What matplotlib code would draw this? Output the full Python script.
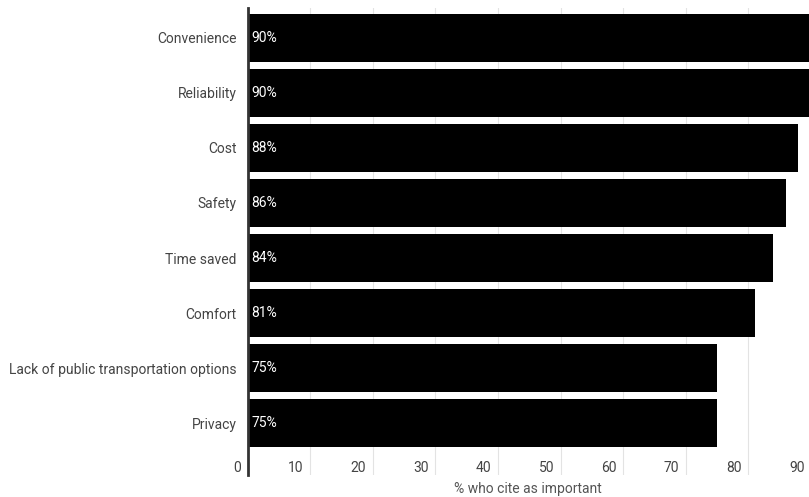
import matplotlib
matplotlib.use("Agg")
import matplotlib.pyplot as plt
from matplotlib.transforms import ScaledTranslation

categories = ["Convenience", "Reliability", "Cost", "Safety", "Time saved",
              "Comfort", "Lack of public transportation options", "Privacy"]
values = [90, 90, 88, 86, 84, 81, 75, 75]
xticks = [0, 10, 20, 30, 40, 50, 60, 70, 80, 90]
xlabel = "% who cite as important"

plt.rcParams["font.family"] = ["Roboto", "DejaVu Sans"]

W, H = 809, 497
fig = plt.figure(figsize=(W / 100, H / 100), dpi=100)
left_px, right_px, top_px, bottom_px = 247.5, 811, 8, 475
ax = fig.add_axes([left_px / W, 1 - bottom_px / H,
                   (right_px - left_px) / W, (bottom_px - top_px) / H])

ypos = list(range(len(categories)))
ax.barh(ypos, values, height=0.89, color="#000000", zorder=3)
ax.set_xlim(0, 90)
ax.set_ylim(7.945, -0.545)

ax.set_yticks(ypos)
ax.set_yticklabels(categories, fontsize=10, color="#444444")
ax.tick_params(axis="y", length=0, pad=8)

ax.set_xticks(xticks)
ax.set_xticklabels([str(t) for t in xticks], fontsize=10, color="#444444")
ax.tick_params(axis="x", length=0, pad=-10.4)
shift = ScaledTranslation(-6.5 / 100, 0, fig.dpi_scale_trans)
for lbl in ax.get_xticklabels():
    lbl.set_ha("right")
    lbl.set_transform(lbl.get_transform() + shift)

ax.grid(axis="x", color="#e3e3e3", linewidth=0.8, zorder=0)
ax.grid(axis="y", visible=False)
for s in ["top", "right", "bottom"]:
    ax.spines[s].set_visible(False)
ax.spines["left"].set_color("#333333")
ax.spines["left"].set_linewidth(2)
ax.spines["left"].set_zorder(4)

for y, v in zip(ypos, values):
    ax.annotate(f"{v}%", xy=(0, y), xytext=(3, 0), textcoords="offset points",
                ha="left", va="center", color="white", fontsize=10, zorder=5)

ax.set_xlabel(xlabel, fontsize=10, color="#555555", va="center")
ax.xaxis.set_label_coords((528 - left_px) / (right_px - left_px),
                          -(489 - bottom_px) / (bottom_px - top_px))

fig.savefig("out.png", dpi=100)
